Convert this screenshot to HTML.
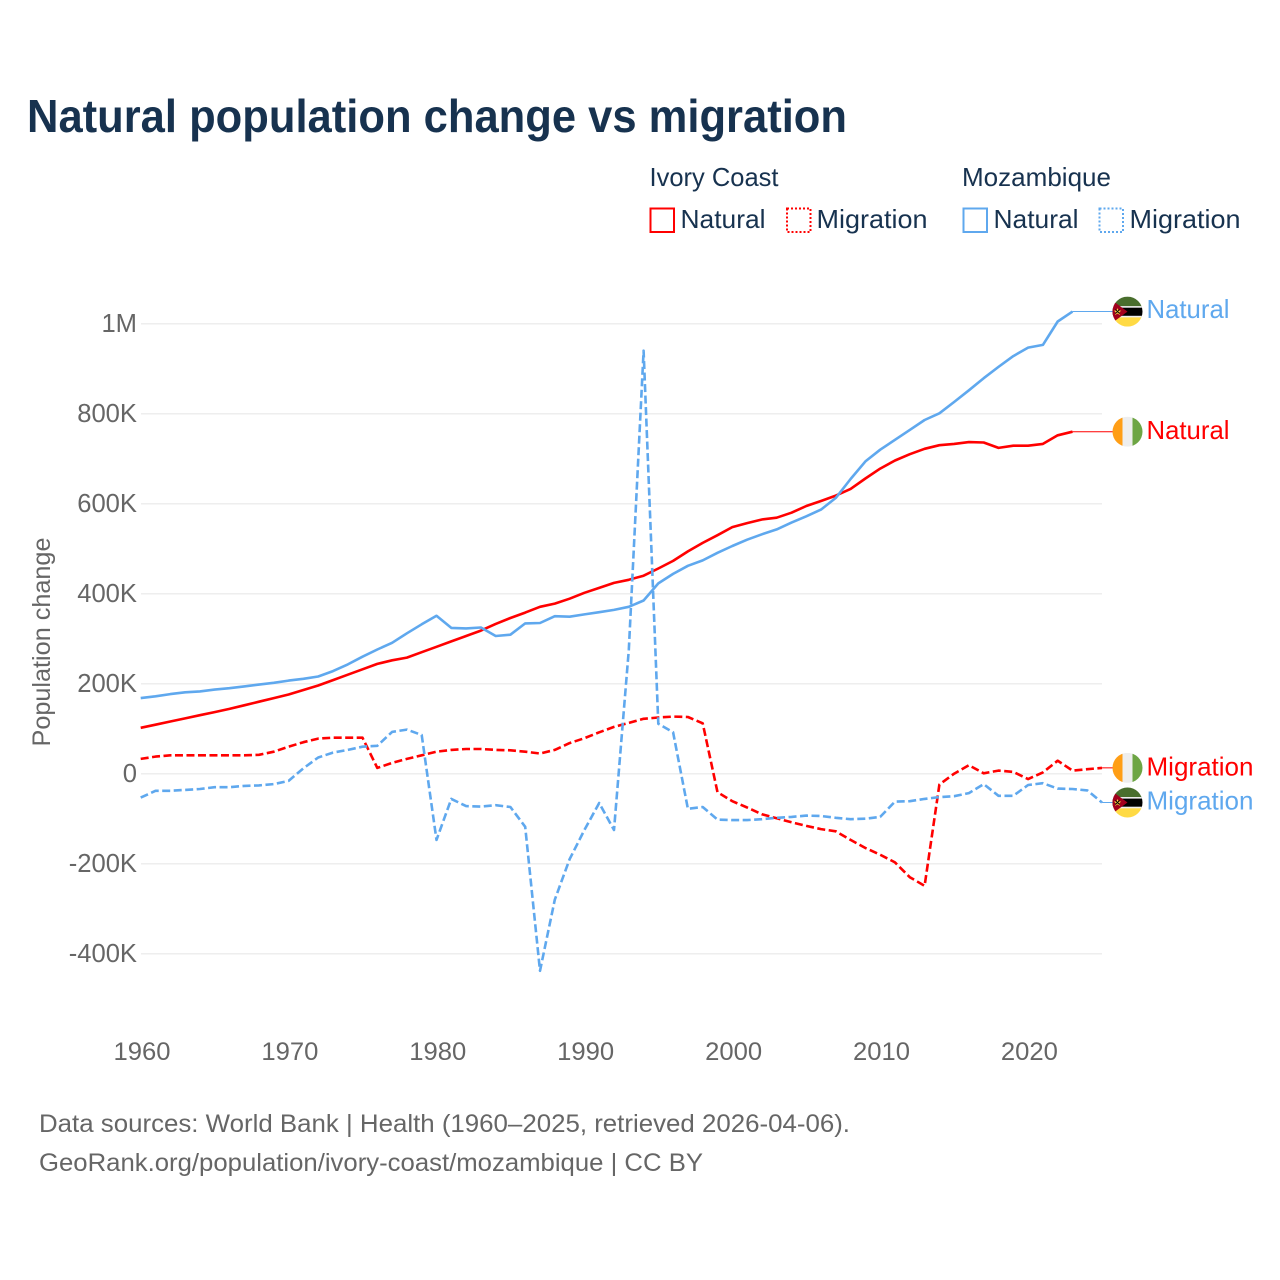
<!DOCTYPE html>
<html lang="en">
<head>
<meta charset="utf-8">
<title>Natural population change vs migration</title>
<style>
html,body{margin:0;padding:0;background:#fff;}
svg{display:block;}
text{font-family:"Liberation Sans",sans-serif;}
</style>
</head>
<body>
<svg id="chart" xmlns="http://www.w3.org/2000/svg" width="1280" height="1280" viewBox="0 0 1280 1280">
  <defs>
    <clipPath id="flag-clip"><circle cx="0" cy="0" r="15"/></clipPath>
    <g id="flag-ci">
      <g clip-path="url(#flag-clip)">
        <rect x="-15" y="-15" width="10" height="30" fill="#ff9e16"/>
        <rect x="-5" y="-15" width="10" height="30" fill="#eeeeee"/>
        <rect x="5" y="-15" width="10" height="30" fill="#6da544"/>
      </g>
    </g>
    <g id="flag-mz">
      <g clip-path="url(#flag-clip)">
        <rect x="-15" y="-15" width="30" height="10" fill="#496e2d"/>
        <rect x="-15" y="-5" width="30" height="10" fill="#000"/>
        <rect x="-15" y="5" width="30" height="10" fill="#ffda44"/>
        <rect x="-15" y="-5.5" width="30" height="1.6" fill="#eee"/>
        <rect x="-15" y="4.2" width="30" height="1.6" fill="#eee"/>
        <polygon points="-15,-11 0,0 -15,11" fill="#a2001d"/>
        <polygon points="-10,-3.5 -8.9,-1 -6.3,-1 -8.3,0.8 -7.6,3.4 -10,1.9 -12.4,3.4 -11.7,0.8 -13.7,-1 -11.1,-1" fill="#ffda44"/>
        <path d="M-12-2l4 4M-8-2l-4 4" stroke="#000" stroke-width="0.9"/>
      </g>
    </g>
  </defs>

  <text x="27" y="132" font-size="46" font-weight="700" fill="#17324f" textLength="820" lengthAdjust="spacingAndGlyphs">Natural population change vs migration</text>

  <g fill="#17324f" font-size="26">
    <text x="649.5" y="186" textLength="129" lengthAdjust="spacingAndGlyphs">Ivory Coast</text>
    <text x="962" y="186" textLength="149" lengthAdjust="spacingAndGlyphs">Mozambique</text>

    <rect x="650.5" y="208.5" width="23.5" height="23.5" fill="none" stroke="#ff0000" stroke-width="2"/>
    <text x="680.5" y="228" textLength="85" lengthAdjust="spacingAndGlyphs">Natural</text>
    <rect x="787" y="208.5" width="23.5" height="23.5" fill="none" stroke="#ff0000" stroke-width="2" stroke-dasharray="2 2"/>
    <text x="816.5" y="228" textLength="111" lengthAdjust="spacingAndGlyphs">Migration</text>

    <rect x="963.5" y="208.5" width="23.5" height="23.5" fill="none" stroke="#5fa8ee" stroke-width="2"/>
    <text x="993.5" y="228" textLength="85" lengthAdjust="spacingAndGlyphs">Natural</text>
    <rect x="1099.5" y="208.5" width="23.5" height="23.5" fill="none" stroke="#5fa8ee" stroke-width="2" stroke-dasharray="2 2"/>
    <text x="1129.5" y="228" textLength="111" lengthAdjust="spacingAndGlyphs">Migration</text>
  </g>

  <g id="grid"></g>
  <g id="yticks"></g>
  <g id="xticks"></g>
  <text transform="translate(50,642) rotate(-90)" text-anchor="middle" font-size="25" fill="#666666" textLength="209" lengthAdjust="spacingAndGlyphs">Population change</text>

  <g id="series"></g>

  <g id="flag-mz-natural">
    <use href="#flag-mz"/>
    <text x="19" y="6.5" font-size="26" fill="#5fa8ee" textLength="83" lengthAdjust="spacingAndGlyphs">Natural</text>
  </g>
  <g id="flag-ci-natural">
    <use href="#flag-ci"/>
    <text x="19" y="7.5" font-size="26" fill="#ff0000" textLength="83" lengthAdjust="spacingAndGlyphs">Natural</text>
  </g>
  <g id="flag-ci-migration">
    <use href="#flag-ci"/>
    <text x="19" y="7.5" font-size="26" fill="#ff0000" textLength="107" lengthAdjust="spacingAndGlyphs">Migration</text>
  </g>
  <g id="flag-mz-migration">
    <use href="#flag-mz"/>
    <text x="19" y="7" font-size="26" fill="#5fa8ee" textLength="107" lengthAdjust="spacingAndGlyphs">Migration</text>
  </g>

  <g font-size="25" fill="#666666">
    <text x="39" y="1132" textLength="811" lengthAdjust="spacingAndGlyphs">Data sources: World Bank | Health (1960–2025, retrieved 2026-04-06).</text>
    <text x="39" y="1171" textLength="664" lengthAdjust="spacingAndGlyphs">GeoRank.org/population/ivory-coast/mozambique | CC BY</text>
  </g>
</svg>
<script>
var startYear = 1960;
var xTickYears = [1960, 1970, 1980, 1990, 2000, 2010, 2020];
var yTickValues = [-400, -200, 0, 200, 400, 600, 800, 1000];
var yTickLabels = ['-400K', '-200K', '0', '200K', '400K', '600K', '800K', '1M'];

var ivoryNatural = [102,109,116,123,130,137,144,152,160,168,176,186,196,208,220,232,244,252,258,270,282,294,306,318,333,346,358,371,378,389,402,413,424,431,440,456,473,494,513,530,548,557,565,569,580,595,606,618,633,656,678,696,710,722,730,733,737,736,724,729,729,733,752,760];
var ivoryMigration = [33,38,41,41,41,41,41,41,42,49,60,70,78,80,80,80,13,24,33,41,49,53,55,55,53,52,49,45,53,68,79,92,104,113,122,125,127,126,112,-41,-61,-75,-90,-99,-108,-116,-123,-128,-147,-165,-180,-197,-230,-249,-24,0,19,1,7,4,-12,3,29,7,10,13];
var mozambiqueNatural = [168,172,177,181,183,187,190,194,198,202,207,211,216,228,243,260,276,291,312,332,351,324,323,325,306,309,334,335,350,349,354,359,364,371,385,423,444,462,474,491,506,520,532,543,558,572,587,613,655,694,720,742,764,786,801,826,852,879,904,928,947,953,1005,1027];
var mozambiqueMigration = [-53,-38,-38,-36,-34,-30,-30,-27,-26,-23,-16,12,36,47,53,60,62,93,98,86,-147,-56,-72,-73,-70,-74,-118,-438,-280,-190,-125,-65,-125,275,940,111,92,-78,-74,-102,-103,-103,-101,-98,-96,-93,-94,-98,-101,-100,-96,-62,-61,-56,-52,-50,-43,-23,-49,-49,-25,-21,-33,-34,-37,-64];

var NS = 'http://www.w3.org/2000/svg';
function xScale(year) { return 140.7 + (year - startYear) * 14.79; }
function yScale(v) { return 773.7 - v * 0.45; }
function make(tag, attrs, parent) {
  var el = document.createElementNS(NS, tag);
  for (var k in attrs) { el.setAttribute(k, attrs[k]); }
  parent.appendChild(el);
  return el;
}

var grid = document.getElementById('grid');
var yticks = document.getElementById('yticks');
var xticks = document.getElementById('xticks');
var seriesLayer = document.getElementById('series');

yTickValues.forEach(function (v, i) {
  var line = make('line', {x1: 141, x2: 1102, y1: yScale(v), y2: yScale(v), stroke: '#eeeeee', 'stroke-width': 1.5}, grid);
  
  
  var t = make('text', {x: 137, y: yScale(v) + 8.3, 'text-anchor': 'end', 'font-size': 25.6, fill: '#666666'}, yticks);
  
  
  t.textContent = yTickLabels[i];
});

xTickYears.forEach(function (yr) {
  var t = make('text', {x: xScale(yr) + 1.3, y: 1060, 'text-anchor': 'middle', 'font-size': 25, fill: '#666666', textLength: 57, lengthAdjust: 'spacingAndGlyphs'}, xticks);
  
  
  t.textContent = yr;
});

function drawSeries(values, color, dash, name, flagId) {
  var pts = values.map(function (v, i) { return xScale(startYear + i).toFixed(1) + ',' + yScale(v).toFixed(1); });
  var lastX = xScale(startYear + values.length - 1);
  var lastY = yScale(values[values.length - 1]);
  var connector = make('line', {x1: lastX, y1: lastY, x2: 1113, y2: lastY, stroke: color, 'stroke-width': 1}, seriesLayer);
  
  
  var attrs = {points: pts.join(' '), fill: 'none', stroke: color, 'stroke-width': 2.6, 'stroke-linejoin': 'round'};
  if (dash) { attrs['stroke-dasharray'] = dash; }
  var line = make('polyline', attrs, seriesLayer);
  
  
  document.getElementById(flagId).setAttribute('transform', 'translate(1127.5,' + lastY.toFixed(1) + ')');
}

drawSeries(ivoryNatural, '#ff0000', null, 'ivory-natural', 'flag-ci-natural');
drawSeries(ivoryMigration, '#ff0000', '8 3.5', 'ivory-migration', 'flag-ci-migration');
drawSeries(mozambiqueNatural, '#5fa8ee', null, 'mozambique-natural', 'flag-mz-natural');
drawSeries(mozambiqueMigration, '#5fa8ee', '8 3.5', 'mozambique-migration', 'flag-mz-migration');
</script>
</body>
</html>
